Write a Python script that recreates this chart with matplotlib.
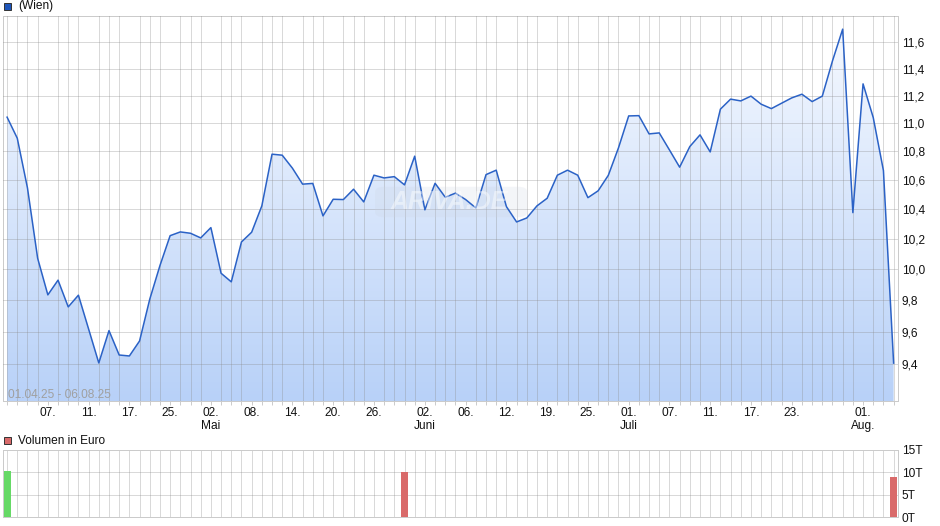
import numpy as np
import matplotlib
matplotlib.use("Agg")
import matplotlib.pyplot as plt
from matplotlib.patches import Rectangle, FancyBboxPatch
from matplotlib.ticker import FixedLocator, FuncFormatter, NullLocator

plt.rcParams['font.family'] = ['Liberation Sans', 'DejaVu Sans']

# ---------------- data ----------------
prices = [11.045, 10.894, 10.546, 10.072, 9.834, 9.929, 9.757, 9.832, 9.617, 9.406,
          9.607, 9.455, 9.449, 9.542, 9.806, 10.024, 10.222, 10.247, 10.238, 10.207,
          10.276, 9.974, 9.918, 10.180, 10.245, 10.423, 10.781, 10.774, 10.683, 10.572,
          10.577, 10.355, 10.468, 10.466, 10.537, 10.450, 10.634, 10.615, 10.624, 10.567,
          10.767, 10.396, 10.578, 10.482, 10.510, 10.466, 10.409, 10.638, 10.669, 10.418,
          10.314, 10.341, 10.423, 10.475, 10.634, 10.669, 10.634, 10.479, 10.526, 10.633,
          10.826, 11.054, 11.056, 10.925, 10.932, 10.811, 10.690, 10.835, 10.918, 10.797,
          11.103, 11.176, 11.163, 11.198, 11.139, 11.107, 11.146, 11.185, 11.212, 11.158,
          11.198, 11.459, 11.699, 10.377, 11.288, 11.042, 10.666, 9.405]

volume_idx = [0, 39, 87]
volume_val = [10200, 10000, 9000]

tick_idx = [4, 8, 12, 16, 20, 24, 28, 32, 36, 41, 45, 49, 53, 57, 61, 65, 69, 73, 77, 84]
tick_labels = ["07.", "11.", "17.", "25.", "02.\nMai", "08.", "14.", "20.", "26.",
               "02.\nJuni", "06.", "12.", "19.", "25.", "01.\nJuli", "07.", "11.",
               "17.", "23.", "01.\nAug."]

price_ticks = [9.4, 9.6, 9.8, 10.0, 10.2, 10.4, 10.6, 10.8, 11.0, 11.2, 11.4, 11.6]
vol_ticks = [0, 5000, 10000, 15000]
vol_tick_labels = ["0T", "5T", "10T", "15T"]

series_label = "(Wien)"
volume_label = "Volumen in Euro"
range_label = "01.04.25 - 06.08.25"

# ---------------- layout ----------------
W, H = 940, 526
fig = plt.figure(figsize=(W / 100, H / 100), dpi=100)

def ax_rect(x0, y0, x1, y1):
    return [x0 / W, 1 - y1 / H, (x1 - x0) / W, (y1 - y0) / H]

ax = fig.add_axes(ax_rect(2.5, 16, 897.5, 401))
axv = fig.add_axes(ax_rect(2.5, 450, 897.5, 517))

n = len(prices)
x = np.arange(n)
xlim = (-0.45, n - 1 + 0.38)

grid_col = '#8a8a8a'
grid_alpha = 0.32
spine_col = '#cbcbcb'
line_col = '#2b62c6'
GLW = 0.72
FS = 8.6

# ---------------- price panel ----------------
ax.set_yscale('log')
ax.set_xlim(*xlim)
ax.set_ylim(9.175, 11.80)

# gradient fill clipped to area under curve
poly = ax.fill_between(x, prices, 1.0, facecolor='none', edgecolor='none', zorder=1)
grad = np.linspace(0, 1, 256).reshape(-1, 1)
top_c = np.array([247, 250, 255]) / 255
bot_c = np.array([184, 209, 248]) / 255
img = top_c[None, None, :] * (1 - grad[:, :, None]) + bot_c[None, None, :] * grad[:, :, None]
im = ax.imshow(img, extent=[0, 1, 0, 1], transform=ax.transAxes, aspect='auto',
               origin='upper', zorder=1, interpolation='bilinear')
im.set_clip_path(poly.get_paths()[0], transform=ax.transData)

ax.plot(x, prices, color=line_col, lw=1.1, zorder=4)

ax.xaxis.set_major_locator(FixedLocator(tick_idx))
ax.set_xticklabels(tick_labels, fontsize=FS, linespacing=1.05, color='#111111')
ax.xaxis.set_minor_locator(FixedLocator(list(range(n))))
ax.tick_params(axis='x', which='major', length=3, width=0.7, color=spine_col, pad=1.5)
ax.tick_params(axis='x', which='minor', length=3, width=0.7, color=spine_col)

ax.yaxis.set_major_locator(FixedLocator(price_ticks))
ax.yaxis.set_minor_locator(NullLocator())
ax.yaxis.set_major_formatter(FuncFormatter(lambda v, p: f"{v:.1f}".replace('.', ',')))
ax.yaxis.tick_right()
ax.tick_params(axis='y', which='both', length=0, pad=3, labelsize=FS, labelcolor='#111111')

ax.grid(True, which='major', axis='y', color=grid_col, alpha=grid_alpha, lw=GLW)
ax.grid(True, which='minor', axis='x', color=grid_col, alpha=grid_alpha, lw=GLW)
ax.set_axisbelow(False)
for s in ax.spines.values():
    s.set_color(spine_col)
    s.set_linewidth(GLW)

ax.text(0.006, 0.016, range_label, transform=ax.transAxes, fontsize=FS,
        color='#a0a0a0', ha='left', va='center', zorder=5)

# watermark
wm = FancyBboxPatch((0.402, 0.590), 0.156, 0.052, boxstyle="round,pad=0.003,rounding_size=0.01",
                    transform=fig.transFigure, facecolor=(0.80, 0.83, 0.88, 0.22),
                    edgecolor='none', zorder=3)
ax.add_artist(wm)
wm.set_clip_on(False)
fig.text(0.478, 0.616, "ARIVA.DE", fontsize=18, fontweight='bold', style='italic',
         color=(1, 1, 1, 0.45), ha='center', va='center', zorder=3)

# ---------------- volume panel ----------------
vol = np.zeros(n)
for i, v in zip(volume_idx, volume_val):
    vol[i] = v
vcols = []
for i in range(n):
    if i == 0 or prices[i] >= prices[i - 1]:
        vcols.append('#66d966')
    else:
        vcols.append('#d96a6a')
axv.bar(x, vol, width=0.7, color=vcols, zorder=3)
axv.set_xlim(*xlim)
axv.set_ylim(0, 15000)
axv.xaxis.set_major_locator(NullLocator())
axv.xaxis.set_minor_locator(FixedLocator(list(range(n))))
axv.tick_params(axis='x', which='both', length=0, labelbottom=False)
axv.yaxis.set_major_locator(FixedLocator(vol_ticks))
axv.set_yticklabels(vol_tick_labels)
axv.yaxis.tick_right()
axv.tick_params(axis='y', length=0, pad=3, labelsize=FS, labelcolor='#111111')
axv.grid(True, which='major', axis='y', color=grid_col, alpha=grid_alpha, lw=GLW)
axv.grid(True, which='minor', axis='x', color=grid_col, alpha=grid_alpha, lw=GLW)
axv.set_axisbelow(True)
for s in axv.spines.values():
    s.set_color(spine_col)
    s.set_linewidth(GLW)

# ---------------- legends ----------------
def legend_box(y_top, face, label):
    fig.patches.append(Rectangle((3.5 / W, 1 - (y_top + 7.5) / H), 7.2 / W, 7.2 / H,
                                 transform=fig.transFigure, facecolor=face,
                                 edgecolor='#333333', lw=0.7))
    fig.text(18.3 / W, 1 - (y_top + 3.9) / H, label, fontsize=FS, ha='left', va='center',
             color='#111111')

legend_box(2.5, '#1f56ba', series_label)
legend_box(436.6, '#d96a6a', volume_label)

fig.savefig("out.png", dpi=100)
